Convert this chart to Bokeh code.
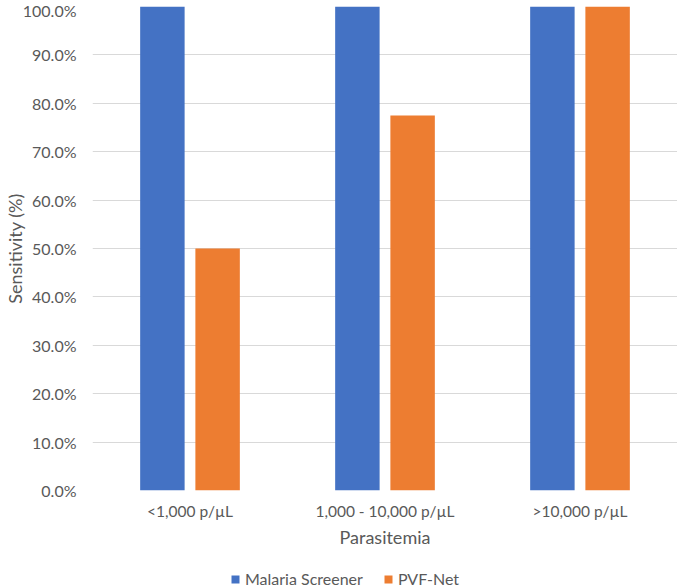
from bokeh.plotting import figure
from bokeh.layouts import column
from bokeh.models import Legend, LegendItem, FixedTicker, NumeralTickFormatter, ColumnDataSource
from bokeh.transform import dodge
from bokeh.embed import file_html
from bokeh.resources import INLINE

categories = ["<1,000 p/µL", "1,000 - 10,000 p/µL", ">10,000 p/µL"]
malaria_screener = [1.0, 1.0, 1.0]
pvf_net = [0.50, 0.775, 1.0]
y_ticks = [0.0, 0.1, 0.2, 0.3, 0.4, 0.5, 0.6, 0.7, 0.8, 0.9, 1.0]
series_names = ["Malaria Screener", "PVF-Net"]
colors = ["#4472C4", "#ED7D31"]

FONT = "Lato"
TXT = "#595959"

positions = list(range(len(categories)))
src = ColumnDataSource(dict(x=positions, ms=malaria_screener, pvf=pvf_net))

p = figure(width=677, height=552, x_range=(-0.5, 2.5), y_range=(0, 1),
           output_backend="svg", toolbar_location=None,
           min_border_left=82, min_border_right=0, min_border_top=6, min_border_bottom=62)

r1 = p.vbar(x=dodge('x', -0.1416, range=p.x_range), top='ms', width=0.228,
            fill_color=colors[0], line_color=None, source=src)
r2 = p.vbar(x=dodge('x', 0.1416, range=p.x_range), top='pvf', width=0.228,
            fill_color=colors[1], line_color=None, source=src)

p.outline_line_color = None
p.xgrid.grid_line_color = None
p.ygrid.grid_line_color = "#D9D9D9"
p.ygrid.grid_line_width = 1

p.yaxis.ticker = FixedTicker(ticks=y_ticks)
p.yaxis.formatter = NumeralTickFormatter(format="0.0%")
p.xaxis.ticker = FixedTicker(ticks=positions)
p.xaxis.major_label_overrides = {i: c for i, c in zip(positions, categories)}

for ax in (p.xaxis[0], p.yaxis[0]):
    ax.axis_line_color = None
    ax.major_tick_line_color = None
    ax.minor_tick_line_color = None
    ax.major_label_text_font = FONT
    ax.major_label_text_color = TXT
    ax.axis_label_text_font = FONT
    ax.axis_label_text_font_size = "18px"
    ax.axis_label_text_font_style = "normal"
    ax.axis_label_text_color = TXT

p.xaxis.major_label_text_font_size = "15.5px"
p.yaxis.major_label_text_font_size = "16px"
p.yaxis.axis_label = "Sensitivity (%)"
p.xaxis.axis_label = "Parasitemia"
p.yaxis.major_label_standoff = 10
p.yaxis.axis_label_standoff = -6
p.xaxis.major_label_standoff = 5
p.xaxis.axis_label_standoff = 3

# legend strip below the chart (its renderers use the same data, far outside its visible range)
lg = figure(width=677, height=36, x_range=(-0.5, 2.5), y_range=(5, 6),
            output_backend="svg", toolbar_location=None,
            min_border_left=0, min_border_right=0, min_border_top=0, min_border_bottom=0)
lg.axis.visible = False
lg.grid.visible = False
lg.outline_line_color = None
k1 = lg.vbar(x='x', top='ms', width=0.228, fill_color=colors[0], line_color=None, source=src)
k2 = lg.vbar(x='x', top='pvf', width=0.228, fill_color=colors[1], line_color=None, source=src)

legend = Legend(items=[LegendItem(label=series_names[0], renderers=[k1]),
                       LegendItem(label=series_names[1], renderers=[k2])],
                orientation="horizontal", location=(138, 0),
                label_text_font=FONT, label_text_font_size="16px", label_text_color=TXT,
                glyph_width=10, glyph_height=10, spacing=20, padding=0, margin=0,
                label_standoff=5,
                border_line_color=None, background_fill_alpha=0)
lg.add_layout(legend, "center")

layout = column(p, lg, spacing=0)
open("out.html", "w").write(file_html(layout, INLINE))
